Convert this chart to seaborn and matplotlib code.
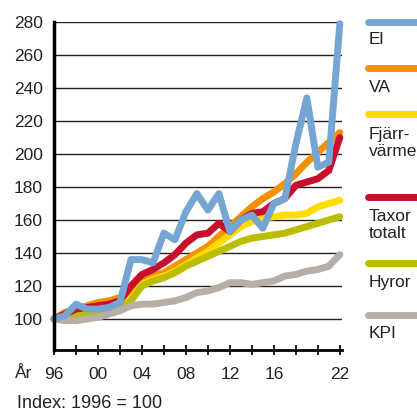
import numpy as np
import pandas as pd
import seaborn as sns
import matplotlib.pyplot as plt
from matplotlib.lines import Line2D

years = list(range(1996, 2023))

el = [100, 102, 109, 106, 106, 107, 110, 136, 136, 134, 152, 148, 165, 176,
      166, 176, 153, 160, 163, 155, 170, 173, 206, 234, 192, 195, 279]
va = [100, 104, 106, 108, 110, 111, 113, 117, 123, 126, 128, 132, 136, 140,
      144, 150, 156, 162, 168, 173, 177, 182, 188, 195, 201, 207, 213]
fjarrvarme = [100, 102, 104, 104, 104, 105, 107, 112, 121, 124, 126, 129, 133, 137,
              141, 146, 151, 156, 159, 161, 162, 163, 163, 164, 168, 170, 172]
taxor = [100, 103, 106, 107, 108, 109, 111, 120, 127, 130, 134, 139, 146, 151,
         152, 158, 153, 160, 164, 165, 170, 173, 181, 183, 185, 190, 210]
hyror = [100, 102, 103, 103, 103, 104, 106, 111, 120, 123, 125, 128, 132, 135,
         138, 141, 144, 147, 149, 150, 151, 152, 154, 156, 158, 160, 162]
kpi = [100, 99, 99, 100, 101, 103, 105, 108, 109, 109, 110, 111, 113, 116,
       117, 119, 122, 122, 121, 122, 123, 126, 127, 129, 130, 132, 139]

series = {
    'El': el,
    'VA': va,
    'Fjärrvärme': fjarrvarme,
    'Taxor totalt': taxor,
    'Hyror': hyror,
    'KPI': kpi,
}
colors = {
    'El': '#75A6D3',
    'VA': '#F39200',
    'Fjärrvärme': '#FFDC00',
    'Taxor totalt': '#C8102E',
    'Hyror': '#BBBD00',
    'KPI': '#B7AFA6',
}
legend_labels = {
    'El': 'El',
    'VA': 'VA',
    'Fjärrvärme': 'Fjärr-\nvärme',
    'Taxor totalt': 'Taxor\ntotalt',
    'Hyror': 'Hyror',
    'KPI': 'KPI',
}
# drawing order, bottom to top
draw_order = ['VA', 'Fjärrvärme', 'Hyror', 'KPI', 'Taxor totalt', 'El']

df = pd.DataFrame([
    {'year': y, 'index': v, 'serie': name}
    for name, vals in series.items() for y, v in zip(years, vals)
])

sns.set_style('white')
plt.rcParams['font.family'] = ['Liberation Sans', 'DejaVu Sans']

fig = plt.figure(figsize=(4.17, 4.12), dpi=100)
W, H = 417, 412
ax = fig.add_axes([54 / W, 1 - 350 / H, (342 - 54) / W, (350 - 22) / H])

sns.lineplot(data=df, x='year', y='index', hue='serie', hue_order=draw_order,
             palette=colors, linewidth=5, legend=False, ax=ax,
             solid_capstyle='round', solid_joinstyle='round', clip_on=False)

ax.set_xlim(1996, 2022.2)
ax.set_ylim(81.2, 280)
ax.set_yticks(range(100, 281, 20))
ax.yaxis.grid(True, color='#222222', linewidth=1)
ax.xaxis.grid(False)
ax.set_axisbelow(True)

xt = list(range(1996, 2023, 2))
xl = ['96' if y == 1996 else (f'{y % 100:02d}' if y in (2000, 2004, 2008, 2012, 2016, 2022) else '') for y in xt]
ax.set_xticks(xt)
ax.set_xticklabels(xl)
ax.tick_params(axis='x', direction='inout', length=7, width=1.2, color='black',
               pad=9, labelsize=12.5, bottom=True, labelcolor='#222222')
ax.tick_params(axis='y', length=0, pad=8, labelsize=12.5, labelcolor='#222222')
ax.set_xlabel('')
ax.set_ylabel('')

for s in ['top', 'right']:
    ax.spines[s].set_visible(False)
ax.spines['left'].set_linewidth(2.5)
ax.spines['bottom'].set_linewidth(2)
ax.spines['left'].set_color('black')
ax.spines['bottom'].set_color('black')

# legend on the right, handle above label
rows = {'El': (22, 40), 'VA': (68, 87), 'Fjärrvärme': (114, 143),
        'Taxor totalt': (197, 225), 'Hyror': (263, 282), 'KPI': (315, 333)}
for name, (hy, ty) in rows.items():
    fig.add_artist(Line2D([368 / W, 430 / W], [1 - hy / H, 1 - hy / H],
                          transform=fig.transFigure, color=colors[name],
                          linewidth=5, solid_capstyle='round'))
    fig.text(369 / W, 1 - ty / H, legend_labels[name], fontsize=12.5,
             ha='left', va='center', color='#222222', linespacing=1.15)

fig.text(15 / W, 1 - 373 / H, 'År', fontsize=12.5, ha='left', va='center',
         color='#222222')
fig.text(17 / W, 1 - 403 / H, 'Index: 1996 = 100', fontsize=13,
         ha='left', va='center', color='#222222')

fig.savefig('out.png', dpi=100)
